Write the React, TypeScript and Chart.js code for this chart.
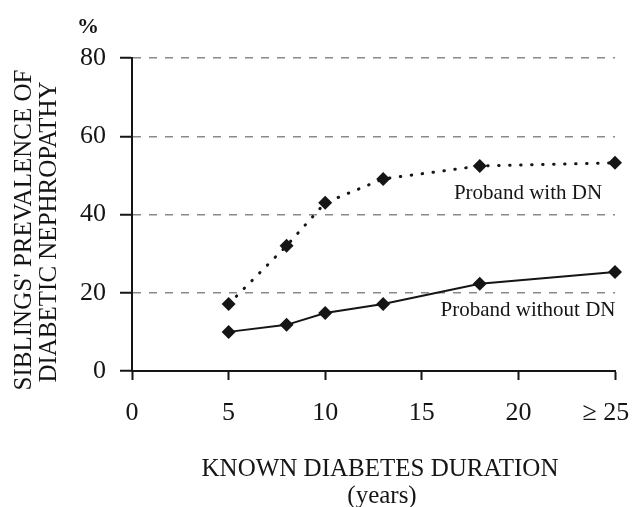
import React, { useEffect, useRef } from 'react';
import { Chart, registerables } from 'chart.js';

Chart.register(...registerables);

const FONT = "'Liberation Serif', 'Times New Roman', serif";
const INK = '#151515';

const xTickValues = [0, 5, 10, 15, 20, 25];
const xTickLabels = ['0', '5', '10', '15', '20', '\u2265 25\u2002\u2009'];
const yTickValues = [0, 20, 40, 60, 80];

const durations = [5, 8, 10, 13, 18, 25];
const withDN = [17.1, 32, 43, 49.1, 52.4, 53.2];
const withoutDN = [10, 11.8, 14.8, 17.1, 22.3, 25.3];

const seriesLabels = ['Proband with DN', 'Proband without DN'];
const yTitleLines = ["SIBLINGS' PREVALENCE OF", 'DIABETIC NEPHROPATHY'];
const xTitleLines = ['KNOWN DIABETES DURATION', '(years)'];
const unitLabel = '%';

const textPlugin = {
  id: 'textPlugin',
  afterDraw(chart: any) {
    const ctx = chart.ctx as CanvasRenderingContext2D;
    ctx.save();
    ctx.fillStyle = INK;
    ctx.textAlign = 'center';
    ctx.textBaseline = 'middle';

    ctx.font = `bold 22px ${FONT}`;
    ctx.fillText(unitLabel, 88, 27);

    ctx.font = `25px ${FONT}`;
    ctx.save();
    ctx.translate(24, 230);
    ctx.rotate(-Math.PI / 2);
    ctx.fillText(yTitleLines[0], 0, 0);
    ctx.restore();
    ctx.save();
    ctx.translate(49, 232);
    ctx.rotate(-Math.PI / 2);
    ctx.fillText(yTitleLines[1], 0, 0);
    ctx.restore();

    ctx.textBaseline = 'alphabetic';
    ctx.fillText(xTitleLines[0], 380, 476);
    ctx.fillText(xTitleLines[1], 382, 503);

    ctx.font = `21px ${FONT}`;
    ctx.fillText(seriesLabels[0], 528, 199);
    ctx.fillText(seriesLabels[1], 528, 316);
    ctx.restore();
  },
};

export default function App() {
  const ref = useRef<HTMLCanvasElement | null>(null);

  useEffect(() => {
    if (!ref.current) return;
    const chart = new Chart(ref.current, {
      type: 'line',
      data: {
        datasets: [
          {
            label: seriesLabels[0],
            data: durations.map((d, i) => ({ x: d, y: withDN[i] })),
            borderColor: INK,
            backgroundColor: INK,
            borderWidth: 3,
            borderDash: [0.5, 10.5],
            borderCapStyle: 'round',
            pointStyle: 'rectRot',
            pointRadius: 7,
            pointBorderWidth: 0,
            pointBackgroundColor: INK,
            tension: 0,
            clip: false,
          },
          {
            label: seriesLabels[1],
            data: durations.map((d, i) => ({ x: d, y: withoutDN[i] })),
            borderColor: INK,
            backgroundColor: INK,
            borderWidth: 2,
            pointStyle: 'rectRot',
            pointRadius: 7,
            pointBorderWidth: 0,
            pointBackgroundColor: INK,
            tension: 0,
            clip: false,
          },
        ],
      },
      options: {
        animation: false,
        responsive: false,
        devicePixelRatio: 1,
        layout: { padding: { top: 58, right: 19, left: 0, bottom: 0 } },
        plugins: { legend: { display: false }, tooltip: { enabled: false } },
        scales: {
          x: {
            type: 'linear',
            min: 0,
            max: 25,
            afterBuildTicks: (s: any) => {
              s.ticks = xTickValues.map((v) => ({ value: v }));
            },
            afterFit: (s: any) => {
              s.height = 136;
              s.paddingLeft = 0;
              s.paddingRight = 0;
            },
            ticks: {
              autoSkip: false,
              maxRotation: 0,
              padding: 18,
              color: INK,
              font: { family: FONT, size: 26 },
              callback: (v: any) => {
                const i = xTickValues.indexOf(Number(v));
                return i >= 0 ? xTickLabels[i] : '';
              },
            },
            grid: {
              drawOnChartArea: false,
              drawTicks: true,
              tickLength: 9,
              tickColor: INK,
              tickWidth: 2,
              tickBorderDash: [],
            },
            border: { color: INK, width: 2 },
          },
          y: {
            type: 'linear',
            min: 0,
            max: 80,
            afterBuildTicks: (s: any) => {
              s.ticks = yTickValues.map((v) => ({ value: v }));
            },
            afterFit: (s: any) => {
              s.width = 132;
              s.paddingTop = 0;
              s.paddingBottom = 0;
            },
            ticks: {
              padding: 14,
              color: INK,
              font: { family: FONT, size: 26 },
              callback: (v: any) => String(v),
            },
            grid: {
              color: (c: any) => (c.tick && c.tick.value === 0 ? 'rgba(0,0,0,0)' : '#8a8a8a'),
              lineWidth: 1.5,
              drawTicks: true,
              tickLength: 12,
              tickColor: INK,
              tickWidth: 2,
              tickBorderDash: [],
            },
            border: { color: INK, width: 2, dash: [8, 8] },
          },
        },
      } as any,
      plugins: [textPlugin],
    });
    return () => chart.destroy();
  }, []);

  return (
    <div style={{ position: 'absolute', left: 0, top: 0, width: 634, height: 507, background: '#fff' }}>
      <canvas ref={ref} width={634} height={507} style={{ display: 'block' }} />
    </div>
  );
}
